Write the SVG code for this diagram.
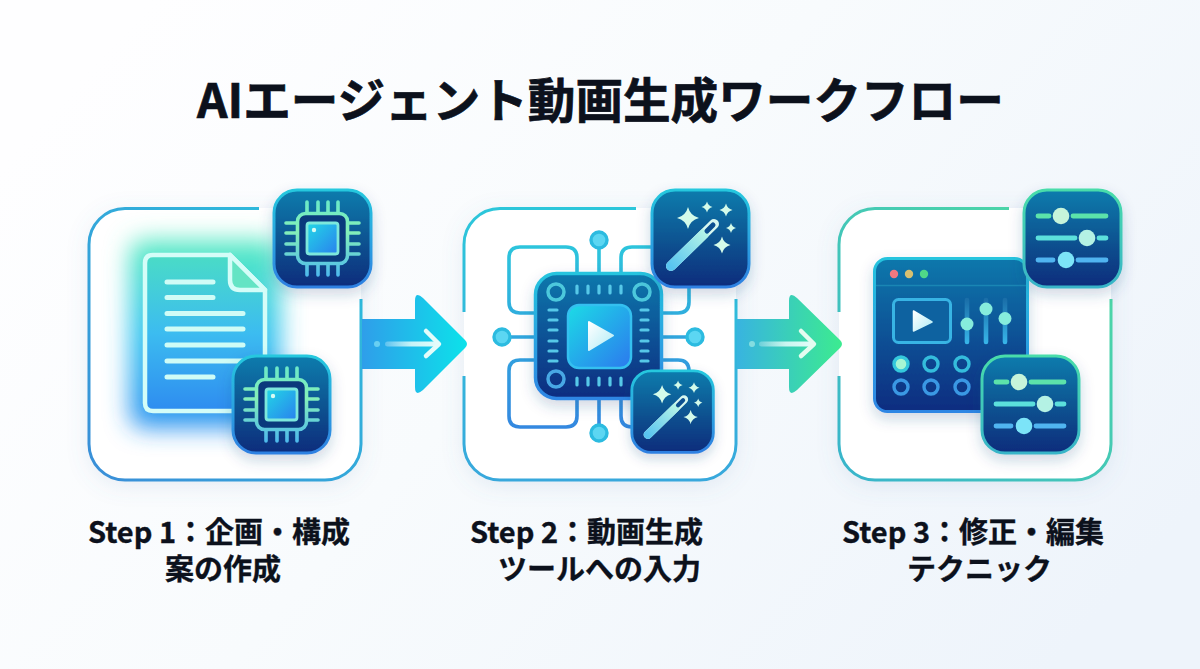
<svg xmlns="http://www.w3.org/2000/svg" width="1200" height="669" viewBox="0 0 1200 669">
<style>
.t{font-family:"Noto Sans CJK JP","Noto Sans",sans-serif;font-weight:700;fill:#0c111c;stroke:#0c111c}
.title{font-size:47.6px;stroke-width:.7px}
.lab{font-size:29px;stroke-width:.35px}
.pin{fill:none;stroke-width:3.6;stroke-linecap:round}
.row{fill:none;stroke-width:4.8;stroke-linecap:round}
.doc{stroke:#cffcf6;stroke-width:5;stroke-linecap:round;fill:none}
.pad{stroke:#56c8e8;stroke-width:3.2;stroke-linecap:round;fill:none}
.ring{fill:none;stroke:#4cc8dc;stroke-width:3.5}
.circ{fill:none;stroke:url(#circ);stroke-width:3.6}
.nd{fill:#5cd6f2;stroke:#2cbbe0;stroke-width:3.4}
.vs{stroke:url(#vsG);stroke-width:4.6;stroke-linecap:round;fill:none}
.sw{fill:none;stroke-width:3.4}
</style>
<defs>
<linearGradient id="bg" x1="0" y1=".25" x2="1" y2=".75"><stop offset="0" stop-color="#fefeff"/><stop offset=".45" stop-color="#f8fbfd"/><stop offset="1" stop-color="#eef4fb"/></linearGradient>
<linearGradient id="tileF" x1="0" y1="0" x2="0" y2="1"><stop offset="0" stop-color="#0a7cad"/><stop offset=".5" stop-color="#0a5592"/><stop offset="1" stop-color="#0a2c7c"/></linearGradient>
<linearGradient id="tileB" x1="0" y1="0" x2="0" y2="1"><stop offset="0" stop-color="#26c8de"/><stop offset="1" stop-color="#2f80e2"/></linearGradient>
<linearGradient id="tileG" x1="0" y1="0" x2="0" y2="1"><stop offset="0" stop-color="#48dcaa"/><stop offset="1" stop-color="#38b4c8"/></linearGradient>
<linearGradient id="pinG" gradientUnits="userSpaceOnUse" x1="0" y1="12" x2="0" y2="88"><stop offset="0" stop-color="#6be8c8"/><stop offset=".4" stop-color="#84f0b8"/><stop offset="1" stop-color="#4cb8ee"/></linearGradient>
<linearGradient id="coreG" x1="0" y1="0" x2="1" y2="1"><stop offset="0" stop-color="#22d8e6"/><stop offset="1" stop-color="#2a80ee"/></linearGradient>
<linearGradient id="wandG" gradientUnits="userSpaceOnUse" x1="20" y1="78" x2="56" y2="42"><stop offset="0" stop-color="#58c4f0"/><stop offset="1" stop-color="#b8f6e6"/></linearGradient>
<linearGradient id="p1" x1="0" y1="1" x2="1" y2="0"><stop offset="0" stop-color="#3a8ed8"/><stop offset="1" stop-color="#2cc2dc"/></linearGradient>
<linearGradient id="p2" x1="0" y1="0" x2="0" y2="1"><stop offset="0" stop-color="#2cc6da"/><stop offset="1" stop-color="#38a8dc"/></linearGradient>
<linearGradient id="p3" x1="0" y1="1" x2="1" y2="0"><stop offset="0" stop-color="#38b4cc"/><stop offset="1" stop-color="#50dca0"/></linearGradient>
<linearGradient id="a1" x1="0" y1="0" x2="1" y2="0"><stop offset="0" stop-color="#2f9eea"/><stop offset="1" stop-color="#0ce2ea"/></linearGradient>
<linearGradient id="a2" x1="0" y1="0" x2="1" y2="0"><stop offset="0" stop-color="#38b4e0"/><stop offset="1" stop-color="#3ceb90"/></linearGradient>
<linearGradient id="inner" x1="0" y1="0" x2="1" y2="0"><stop offset="0" stop-color="#ffffff" stop-opacity=".25"/><stop offset=".5" stop-color="#e4fcfa" stop-opacity=".85"/><stop offset="1" stop-color="#e4fcfa"/></linearGradient>
<linearGradient id="docF" x1="0" y1="0" x2="0" y2="1"><stop offset="0" stop-color="#4adcc6"/><stop offset=".5" stop-color="#3cbcf0"/><stop offset="1" stop-color="#2e8cf0"/></linearGradient>
<linearGradient id="glowF" x1="0" y1="0" x2="0" y2="1"><stop offset="0" stop-color="#56ecc0"/><stop offset=".5" stop-color="#34c4f0"/><stop offset="1" stop-color="#2a90f0"/></linearGradient>
<linearGradient id="circ" gradientUnits="userSpaceOnUse" x1="0" y1="230" x2="0" y2="440"><stop offset="0" stop-color="#2ccadc"/><stop offset="1" stop-color="#3484e0"/></linearGradient>
<linearGradient id="chipF" x1="0" y1="0" x2="0" y2="1"><stop offset="0" stop-color="#0a78ac"/><stop offset="1" stop-color="#0a2c80"/></linearGradient>
<linearGradient id="chipB" x1="0" y1="0" x2="0" y2="1"><stop offset="0" stop-color="#26c4de"/><stop offset="1" stop-color="#2e86e4"/></linearGradient>
<linearGradient id="playG" x1="0" y1="0" x2="1" y2="1"><stop offset="0" stop-color="#1cdce6"/><stop offset="1" stop-color="#2c78ee"/></linearGradient>
<linearGradient id="triG" x1="0" y1="0" x2="1" y2="1"><stop offset="0" stop-color="#ffffff"/><stop offset="1" stop-color="#b0ecf6"/></linearGradient>
<linearGradient id="vsG" gradientUnits="userSpaceOnUse" x1="0" y1="299" x2="0" y2="344"><stop offset="0" stop-color="#1a6ea8"/><stop offset="1" stop-color="#38b6ea"/></linearGradient>
<filter id="sh" x="-30%" y="-30%" width="160%" height="170%"><feDropShadow dx="0" dy="6" stdDeviation="7" flood-color="#1a4a80" flood-opacity=".22"/></filter>
<filter id="psh" x="-15%" y="-15%" width="130%" height="130%"><feDropShadow dx="0" dy="5" stdDeviation="11" flood-color="#5a84b4" flood-opacity=".14"/></filter>
<filter id="gl" x="-50%" y="-50%" width="200%" height="200%"><feGaussianBlur stdDeviation="12"/></filter>
<path id="star" d="M0-1Q.2-.2 1 0Q.2.2 0 1Q-.2.2-1 0Q-.2-.2 0-1Z" fill="#d4fbea"/>
<g id="chipIcon">
<rect x="24.500" y="24.500" width="50" height="50" rx="8" fill="#0a3a7c" stroke="url(#pinG)" stroke-width="3.600"/>
<path class="pin" stroke="url(#pinG)" d="M34 13V24M45 13V24M55 13V24M65 13V24M34 75V86M45 75V86M55 75V86M65 75V86M13 34H24M13 44H24M13 55H24M13 65H24M75 34H86M75 44H86M75 55H86M75 65H86"/>
<rect x="34" y="34" width="31" height="31" rx="2.500" fill="url(#coreG)" stroke="#7ce8dc" stroke-width="2.800"/>
<circle cx="41" cy="41" r="2.200" fill="#d8fbf4"/>
</g>
<g id="wandIcon">
<use href="#star" transform="translate(37 29) scale(11)"/>
<use href="#star" transform="translate(56 18) scale(5.500)"/>
<use href="#star" transform="translate(75 21) scale(6.500)"/>
<use href="#star" transform="translate(80 39) scale(5)"/>
<use href="#star" transform="translate(71 56) scale(8.500)"/>
<path d="M20 77L63 35" stroke="#d8f8f0" stroke-width="10" stroke-linecap="round"/>
<path d="M20 77L53 45" stroke="url(#wandG)" stroke-width="10" stroke-linecap="round"/>
<path d="M56 42L62 36" stroke="#0c4f90" stroke-width="5" stroke-linecap="round"/>
</g>
<g id="sliderIcon">
<path class="row" stroke="#5ce2aa" d="M15 27H26M50 27H83"/><circle cx="38" cy="27" r="8.300" fill="#c6f4da"/>
<path class="row" stroke="#5ce0dc" d="M15 49H52M76 49H83"/><circle cx="64" cy="49" r="8.300" fill="#b4f2e4"/>
<path class="row" stroke="#50b4f0" d="M15 71H30M55 71H83"/><circle cx="43" cy="71" r="8.300" fill="#7ce4f8"/>
</g>
</defs>
<rect width="1200" height="669" fill="url(#bg)"/>
<text class="t title" x="197" y="118">AIエージェント動画生成ワークフロー</text>

<g id="step1">
<rect x="89" y="208" width="272" height="272" rx="36" fill="#fff" filter="url(#psh)"/>
<path d="M259 208.500H125A36 36 0 0 0 89 244.500V444A36 36 0 0 0 125 480H325A36 36 0 0 0 361 444V299" fill="none" stroke="url(#p1)" stroke-width="3"/>
<g id="doc">
<rect x="130" y="240" width="150" height="188" rx="14" fill="url(#glowF)" filter="url(#gl)"/>
<path d="M153 255H230L265 290V403Q265 411 257 411H153Q145 411 145 403V263Q145 255 153 255Z" fill="url(#docF)" stroke="#d4fdf8" stroke-width="4.500"/>
<path d="M230 255V280Q230 290 240 290H265Z" fill="#64e4c4" stroke="#d4fdf8" stroke-width="4.500" stroke-linejoin="round"/>
<path class="doc" d="M167 282H213M167 297.500H213M167 313.500H243M167 329H243M167 345H243M167 361H243M167 377H213"/>
</g>
<g id="chipTile1" transform="translate(273 189)">
<rect x="1" y="1" width="97" height="97" rx="23" fill="url(#tileF)" stroke="url(#tileB)" stroke-width="3" filter="url(#sh)"/>
<use href="#chipIcon"/>
</g>
<g id="chipTile2" transform="translate(232 355)">
<rect x="1" y="1" width="97" height="97" rx="23" fill="url(#tileF)" stroke="url(#tileB)" stroke-width="3" filter="url(#sh)"/>
<use href="#chipIcon"/>
</g>
<text class="t lab" x="88" y="543">Step 1：企画・構成</text>
<text class="t lab" x="165" y="580">案の作成</text>
</g>

<g id="step2">
<rect x="464" y="208" width="272" height="272" rx="36" fill="#fff" filter="url(#psh)"/>
<path d="M636 208.500H500A36 36 0 0 0 464 244.500V312M464 376V444A36 36 0 0 0 500 480H700A36 36 0 0 0 736 444V299" fill="none" stroke="url(#p2)" stroke-width="3"/>
<g id="circuit">
<path class="circ" d="M577 272V258Q577 247 566 247H520Q509 247 509 258V302Q509 313 520 313H534M621 272V258Q621 247 632 247H660M689 285V302Q689 313 678 313H663M534 360H520Q509 360 509 371V416Q509 427 520 427H566Q577 427 577 416V400M663 360H678Q689 360 689 371V380M621 400V416Q621 427 632 427H645M599 272V248M599 400V425M534 337H510M663 337H687"/>
<circle class="nd" cx="599" cy="240" r="8"/><circle class="nd" cx="502" cy="337" r="8"/><circle class="nd" cx="695" cy="337" r="8"/><circle class="nd" cx="599" cy="433" r="8"/>
</g>
<g id="bigChip">
<rect x="535.500" y="273.500" width="126" height="125" rx="21" fill="url(#chipF)" stroke="url(#chipB)" stroke-width="3.500" filter="url(#sh)"/>
<circle class="ring" cx="556" cy="292" r="8"/><circle class="ring" cx="642" cy="292" r="8"/><circle class="ring" cx="556" cy="379" r="8" style="stroke:#48a8e4"/>
<path class="pad" d="M577 286V293M588 286V293M599 286V293M610 286V293M621 286V293M577 378V385M588 378V385M599 378V385M610 378V385M621 378V385M549 310H557M549 320H557M549 330H557M549 341H557M549 351H557M549 361H557M641 310H648M641 320H648M641 330H648M641 341H648M641 351H648M641 361H648"/>
<rect x="568" y="305" width="63" height="63" rx="11" fill="url(#playG)" stroke="#34c0f0" stroke-width="2.500"/>
<path d="M589 322L613 335.500L589 350Z" fill="url(#triG)" stroke="url(#triG)" stroke-width="2" stroke-linejoin="round"/>
</g>
<g id="wandTile1" transform="translate(651 189)">
<rect x="1" y="1" width="97" height="97" rx="23" fill="url(#tileF)" stroke="url(#tileB)" stroke-width="3" filter="url(#sh)"/>
<use href="#wandIcon"/>
</g>
<g id="wandTile2" transform="translate(631 370)">
<g transform="scale(.84)">
<rect x="1" y="1" width="97" height="97" rx="23" fill="url(#tileF)" stroke="url(#tileB)" stroke-width="3.400" filter="url(#sh)"/>
<use href="#wandIcon"/>
</g>
</g>
<text class="t lab" x="470" y="543">Step 2：動画生成</text>
<text class="t lab" x="498" y="580">ツールへの入力</text>
</g>

<g id="step3">
<rect x="839" y="208" width="272" height="272" rx="36" fill="#fff" filter="url(#psh)"/>
<path d="M1009 208.500H875A36 36 0 0 0 839 244.500V312M839 376V444A36 36 0 0 0 875 480H1075A36 36 0 0 0 1111 444V299" fill="none" stroke="url(#p3)" stroke-width="3"/>
<g id="window">
<rect x="874.500" y="258.500" width="153" height="153" rx="13" fill="url(#chipF)" stroke="url(#chipB)" stroke-width="3" filter="url(#sh)"/>
<path d="M876 285.500H1026" stroke="#1a86b4" stroke-width="1.500"/>
<circle cx="894" cy="274" r="4.200" fill="#f07880"/><circle cx="909" cy="274" r="4.200" fill="#d8c070"/><circle cx="924" cy="274" r="4.200" fill="#50d888"/>
<rect x="893.500" y="299.500" width="57" height="43" rx="5" fill="#0e62a0" stroke="#38b4e4" stroke-width="3"/>
<path d="M913.500 311L932 322L913.500 331Z" fill="url(#triG)" stroke="url(#triG)" stroke-width="1.500" stroke-linejoin="round"/>
<path class="vs" d="M967 300V342M986 300V342M1005 300V342"/>
<circle cx="967" cy="324" r="6.500" fill="#86ecdc"/><circle cx="986" cy="309" r="6.500" fill="#86ecdc"/><circle cx="1005" cy="318.500" r="6.500" fill="#86ecdc"/>
<circle cx="901" cy="364" r="7" fill="#a6f6d4" stroke="#34c8dc" stroke-width="3.400"/>
<circle class="sw" cx="931" cy="364" r="7" stroke="#34bcdc"/><circle class="sw" cx="962" cy="364" r="7" stroke="#34bcdc"/>
<circle class="sw" cx="901" cy="387" r="7" stroke="#3a98e4"/><circle class="sw" cx="931" cy="387" r="7" stroke="#3a98e4"/><circle class="sw" cx="962" cy="387" r="7" stroke="#3a98e4"/>
</g>
<g id="sliderTile1" transform="translate(1023 189)">
<rect x="1" y="1" width="97" height="97" rx="23" fill="url(#tileF)" stroke="url(#tileG)" stroke-width="3" filter="url(#sh)"/>
<use href="#sliderIcon"/>
</g>
<g id="sliderTile2" transform="translate(981 355)">
<rect x="1" y="1" width="97" height="97" rx="23" fill="url(#tileF)" stroke="url(#tileG)" stroke-width="3" filter="url(#sh)"/>
<use href="#sliderIcon"/>
</g>
<text class="t lab" x="842" y="543">Step 3：修正・編集</text>
<text class="t lab" x="907" y="580">テクニック</text>
</g>

<g id="connectors">
<g id="arrow1">
<path d="M362 319H415V301Q415 291 423 298L465 340Q469 344 465 348L423 390Q415 397 415 387V369H362Z" fill="url(#a1)"/>
<circle cx="377" cy="344" r="3" fill="#7fdcf4" opacity=".75"/>
<rect x="385" y="341.500" width="53" height="5" rx="2.500" fill="url(#inner)"/>
<path d="M426 331L439 344L426 356" stroke="#e4fcfa" stroke-width="4.500" stroke-linecap="round" stroke-linejoin="round" fill="none"/>
</g>
<g id="arrow2">
<path d="M737 319H789V301Q789 291 797 298L840 340Q844 344 840 348L797 390Q789 397 789 387V369H737Z" fill="url(#a2)"/>
<circle cx="752" cy="344" r="3" fill="#9ce8e4" opacity=".75"/>
<rect x="759" y="341.500" width="54" height="5" rx="2.500" fill="url(#inner)"/>
<path d="M801 331L814 344L801 356" stroke="#e4fcf0" stroke-width="4.500" stroke-linecap="round" stroke-linejoin="round" fill="none"/>
</g>
</g>
</svg>
